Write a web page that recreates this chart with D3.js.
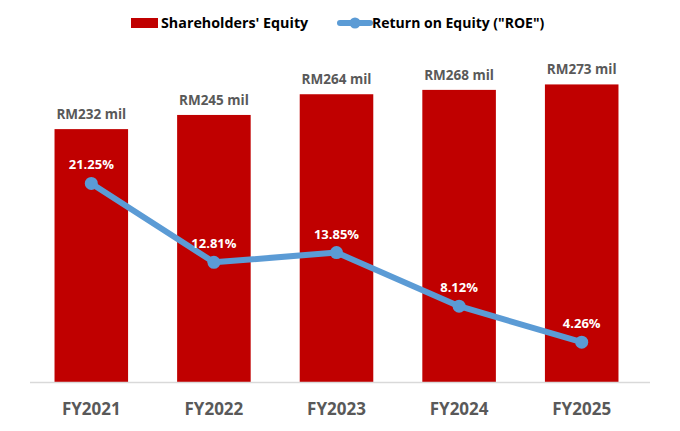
<!DOCTYPE html>
<html>
<head>
<meta charset="utf-8">
<script src="https://cdn.jsdelivr.net/npm/d3@7"></script>
<style>
  body { margin: 0; background: #fff; }
  text { font-family: "Open Sans", "Liberation Sans", sans-serif; font-weight: bold; }
</style>
</head>
<body>
<script>
var years = ["FY2021", "FY2022", "FY2023", "FY2024", "FY2025"];
var equity = [232, 245, 264, 268, 273];
var roe = [21.25, 12.81, 13.85, 8.12, 4.26];

var W = 680, H = 431;
var svg = d3.select("body").append("svg")
    .attr("width", W).attr("height", H);

var x = d3.scaleBand().domain(years).range([30, 643])
    .paddingInner(0.4).paddingOuter(0.2);
var y = d3.scaleLinear().domain([0, 300]).range([382, 55]);
var y2 = d3.scaleLinear().domain([0, 35]).range([382, 55]);

// bars
svg.selectAll("rect.bar").data(years).enter().append("rect")
    .attr("class", "bar")
    .attr("x", function (d) { return x(d); })
    .attr("width", x.bandwidth())
    .attr("y", function (d, i) { return y(equity[i]); })
    .attr("height", function (d, i) { return y(0) - y(equity[i]); })
    .attr("fill", "#c00000");

svg.selectAll("text.bl").data(years).enter().append("text")
    .attr("class", "bl")
    .attr("x", function (d) { return x(d) + x.bandwidth() / 2; })
    .attr("y", function (d, i) { return y(equity[i]) - 10; })
    .attr("text-anchor", "middle")
    .attr("font-size", 13.5)
    .attr("fill", "#595959")
    .text(function (d, i) { return "RM" + equity[i] + " mil"; });

// x axis
var xAxis = svg.append("g")
    .attr("transform", "translate(0," + y(0) + ")")
    .call(d3.axisBottom(x).tickSize(0).tickPadding(21));
xAxis.select(".domain").attr("d", "M30,0.5H650").attr("stroke", "#d9d9d9").attr("stroke-width", 1.5);
xAxis.selectAll("text")
    .attr("font-size", 17)
    .attr("fill", "#595959")
    .style("font-family", "'Open Sans', 'Liberation Sans', sans-serif")
    .style("font-weight", "bold");

// ROE line
var line = d3.line()
    .x(function (d, i) { return x(years[i]) + x.bandwidth() / 2; })
    .y(function (d) { return y2(d); });

svg.append("path").datum(roe)
    .attr("d", line)
    .attr("fill", "none")
    .attr("stroke", "#5b9bd5")
    .attr("stroke-width", 6)
    .attr("stroke-linejoin", "round");

svg.selectAll("circle.pt").data(roe).enter().append("circle")
    .attr("class", "pt")
    .attr("cx", function (d, i) { return x(years[i]) + x.bandwidth() / 2; })
    .attr("cy", function (d) { return y2(d); })
    .attr("r", 6.5)
    .attr("fill", "#5b9bd5");

svg.selectAll("text.rl").data(roe).enter().append("text")
    .attr("class", "rl")
    .attr("x", function (d, i) { return x(years[i]) + x.bandwidth() / 2; })
    .attr("y", function (d) { return y2(d) - 14; })
    .attr("text-anchor", "middle")
    .attr("font-size", 13)
    .attr("fill", "#ffffff")
    .text(function (d) { return d.toFixed(2) + "%"; });

// legend
var lg = svg.append("g");
lg.append("rect").attr("x", 131).attr("y", 18).attr("width", 27).attr("height", 10).attr("fill", "#c00000");
lg.append("text").attr("x", 161).attr("y", 28).attr("font-size", 14.3).attr("fill", "#000")
    .text("Shareholders' Equity");
lg.append("line").attr("x1", 340).attr("x2", 370).attr("y1", 23).attr("y2", 23)
    .attr("stroke", "#5b9bd5").attr("stroke-width", 6).attr("stroke-linecap", "round");
lg.append("circle").attr("cx", 355).attr("cy", 23).attr("r", 5.5).attr("fill", "#5b9bd5");
lg.append("text").attr("x", 372).attr("y", 28).attr("font-size", 14).attr("fill", "#000")
    .text("Return on Equity (\"ROE\")");
</script>
</body>
</html>
